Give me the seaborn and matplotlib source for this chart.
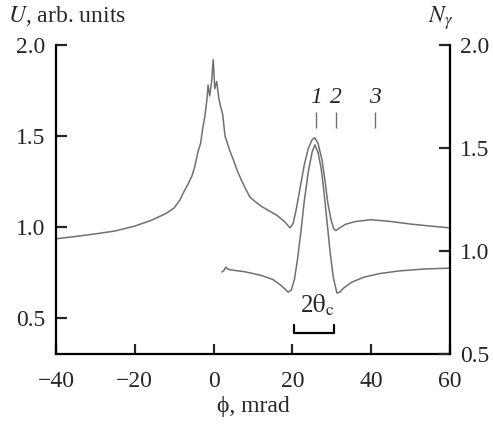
import numpy as np
import matplotlib.pyplot as plt
import pandas as pd
import seaborn as sns

# U curve (left axis)
phi_u = [-40, -35, -30, -25, -20, -16, -12, -10, -8.5, -7.7, -6.5, -5.5, -4.8,
         -4.0, -3.3, -2.7, -2.2, -1.7, -1.4, -1.0, -0.5, -0.1, 0.3, 0.8, 1.3,
         1.8, 2.3, 2.9, 3.5, 4.1, 5.0, 6.0, 7.0, 8.0, 9.2, 10.5, 12, 14, 16,
         18, 19.4, 20.2, 21, 22, 23, 24, 25, 25.7, 26.5, 27.5, 28.3, 29,
         29.8, 30.5, 31, 32, 33.5, 36, 40, 45, 50, 55, 60]
u_vals = [0.935, 0.948, 0.962, 0.978, 1.005, 1.035, 1.075, 1.105, 1.15, 1.187,
          1.235, 1.28, 1.33, 1.41, 1.46, 1.55, 1.61, 1.70, 1.78, 1.72, 1.80,
          1.92, 1.76, 1.80, 1.71, 1.66, 1.62, 1.50, 1.46, 1.42, 1.37, 1.31,
          1.26, 1.215, 1.165, 1.14, 1.115, 1.09, 1.065, 1.03, 0.995, 1.02,
          1.10, 1.22, 1.34, 1.43, 1.48, 1.49, 1.46, 1.37, 1.25, 1.13, 1.04,
          0.99, 0.98, 0.995, 1.015, 1.03, 1.04, 1.03, 1.016, 1.005, 0.995]

# N_gamma curve (right axis)
phi_n = [2.1, 2.6, 3.1, 3.6, 4.5, 8, 12, 15, 17, 18.3, 18.9, 19.7, 20.5,
         21.3, 22.2, 23, 24, 25, 25.7, 26.5, 27.3, 28, 28.8, 29.6, 30.4,
         31.3, 32, 33, 35, 38, 42, 47, 53, 60]
n_vals = [0.898, 0.905, 0.922, 0.912, 0.908, 0.899, 0.882, 0.862, 0.835,
          0.812, 0.80, 0.81, 0.86, 0.96, 1.10, 1.24, 1.38, 1.48, 1.515, 1.48,
          1.40, 1.29, 1.14, 0.99, 0.87, 0.796, 0.80, 0.82, 0.848, 0.872,
          0.89, 0.903, 0.912, 0.917]

# positions marked 1, 2, 3 and the 2theta_c bracket
mark_phi = [26, 31, 41]
mark_labels = ['1', '2', '3']
bracket_phi = [20.5, 30.5]

sns.set_style('ticks')
plt.rcParams['font.family'] = ['Liberation Serif', 'DejaVu Serif']
plt.rcParams['mathtext.fontset'] = 'stix'
plt.rcParams['xtick.direction'] = 'in'
plt.rcParams['ytick.direction'] = 'in'

fs = 17
fig = plt.figure(figsize=(4.93, 4.26), dpi=100)
ax = fig.add_axes([56 / 493, 1 - 354 / 426, (450 - 56) / 493, (354 - 45) / 426])
ax2 = ax.twinx()

df_u = pd.DataFrame({'phi': phi_u, 'U': u_vals})
df_n = pd.DataFrame({'phi': phi_n, 'N': n_vals})
grey = '#707070'
sns.lineplot(data=df_u, x='phi', y='U', ax=ax, color=grey, lw=1.1)
sns.lineplot(data=df_n, x='phi', y='N', ax=ax2, color=grey, lw=1.1)

ax.set_xlim(-40, 60)
ax.set_ylim(0.302, 2.0)
ax2.set_ylim(0.5, 2.0)
ax.set_xticks([-40, -20, 0, 20, 40, 60])
ax.set_yticks([0.5, 1.0, 1.5, 2.0])
ax2.set_yticks([0.5, 1.0, 1.5, 2.0])
ax.yaxis.set_major_formatter(plt.FormatStrFormatter('%.1f'))
ax2.yaxis.set_major_formatter(plt.FormatStrFormatter('%.1f'))

for a in (ax, ax2):
    for s in a.spines.values():
        s.set_linewidth(1.6)
        s.set_color('black')
    a.spines['top'].set_visible(False)
ax.spines['right'].set_visible(False)
ax2.spines['left'].set_visible(False)
ax2.spines['bottom'].set_visible(False)

ax.tick_params(axis='x', direction='in', length=7, width=1.6, pad=12, labelsize=fs)
ax.tick_params(axis='y', direction='in', length=8, width=1.6, pad=8, labelsize=fs)
ax2.tick_params(axis='y', direction='in', length=8, width=1.6, pad=7, labelsize=fs)

ax.set_xlabel('ϕ, mrad', fontsize=fs, labelpad=3)
ax.set_ylabel('')
ax2.set_ylabel('')

# markers 1, 2, 3
ax.vlines(mark_phi, 1.544, 1.632, color=grey, lw=1.0)
for p, lab in zip(mark_phi, mark_labels):
    ax.text(p, 1.71, lab, ha='center', va='center', fontsize=fs, style='italic')

# 2theta_c bracket
bx = [bracket_phi[0], bracket_phi[0], bracket_phi[1], bracket_phi[1]]
by = [0.462, 0.418, 0.418, 0.462]
ax.plot(bx, by, color='black', lw=1.6)
ax.text(np.mean(bracket_phi) + 0.8, 0.57, r'2$\mathrm{\theta}_\mathrm{c}$',
        ha='center', va='center', fontsize=fs + 1)

fig.text(8 / 493, 1 - 16 / 426, r'$U$, arb. units', fontsize=fs, va='center', ha='left')
fig.text(441 / 493, 1 - 18 / 426, r'$N_\gamma$', fontsize=fs, va='center', ha='center')

fig.savefig('out.png', dpi=100)
